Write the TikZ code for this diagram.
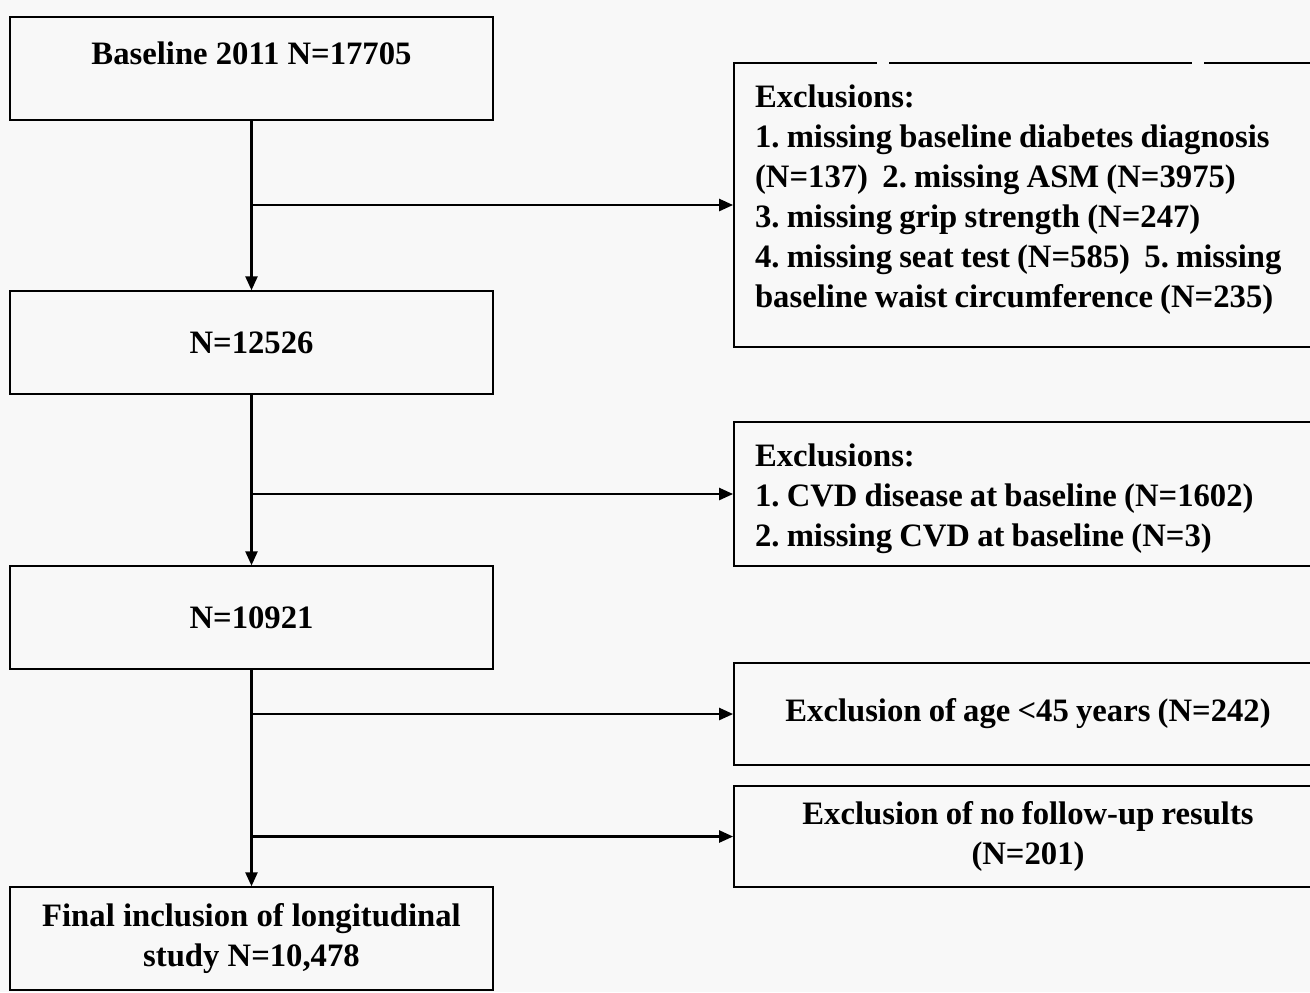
\documentclass[tikz,border=0pt]{standalone}
\usepackage{fontspec}
\setmainfont{Liberation Serif}
\usetikzlibrary{arrows.meta}
\definecolor{paper}{HTML}{F8F8F8}
\newcommand{\liftby}[1]{\rule[-#1]{0pt}{#1}}
\newcommand{\dropby}[1]{\rule{0pt}{#1}}
\newcommand{\tightspace}{\spaceskip=0.22em\relax}

\begin{document}
\begin{tikzpicture}[x=0.02cm,y=-0.02cm,
			>={Triangle[length=0.28cm,width=0.24cm]}]
			\tikzstyle{every node}=[draw,line width=1.1pt,inner sep=0pt,
			font=\fontsize{18.6}{22.8}\selectfont\bfseries\frenchspacing]
			\tikzstyle{mainbox}=[minimum width=9.66cm,minimum height=2.05cm,align=center]
			\tikzstyle{sidebox}=[minimum width=11.76cm,text width=10.92cm,
			execute at begin node=\tightspace]
			\tikzstyle{flow}=[->,line width=1.4pt]
			\path[use as bounding box,fill=paper] (0,0) rectangle (1310,992);
			\clip (0,0) rectangle (1310,992);
			% main column
			\node[mainbox] (base) at (251.5,68.5) {Baseline 2011 N=17705\liftby{0.62cm}};
			\node[mainbox] (stepA) at (251.5,342.5) {N=12526};
			\node[mainbox] (stepB) at (251.5,617.5) {N=10921};
			\node[mainbox] (final) at (251.5,938.5) {Final inclusion of longitudinal\\study N=10,478};
			% exclusions
			\node[sidebox,minimum height=5.68cm,align=left] (exA) at (1028,205)
			{Exclusions:\\
			\mbox{1. missing baseline diabetes diagnosis}\\
			\mbox{(N=137)~ 2. missing ASM (N=3975)}\\
			\mbox{3. missing grip strength (N=247)}\\
			\mbox{4. missing seat test (N=585)~ 5. missing}\\
			\mbox{baseline waist circumference (N=235)}\liftby{0.36cm}};
			\node[sidebox,minimum height=2.88cm,align=left] (exB) at (1028,494)
			{\dropby{0.64cm}Exclusions:\\
			1. CVD disease at baseline (N=1602)\\
			2. missing CVD at baseline (N=3)};
			\node[sidebox,minimum height=2.04cm,align=center] (exC) at (1028,714)
			{Exclusion of age <45 years (N=242)};
			\node[sidebox,minimum height=2.02cm,align=center] (exD) at (1028,836.5)
			{Exclusion of no follow-up results\\(N=201)};
			% breaks in the top edge
			\draw[paper,line width=2pt] ([xshift=2.88cm]exA.north west) -- +(12,0);
			\draw[paper,line width=2pt] ([xshift=9.18cm]exA.north west) -- +(12,0);
			% arrows
			\draw[flow] (base) -- (stepA);
			\draw[flow] (stepA) -- (stepB);
			\draw[flow] (stepB) -- (final);
			\draw[flow] (base.south |- exA.west) -- (exA.west);
			\draw[flow] (stepA.south |- exB.west) -- (exB.west);
			\draw[flow] (stepB.south |- exC.west) -- (exC.west);
			\draw[flow] (stepB.south |- exD.west) -- (exD.west);
		\end{tikzpicture}
\end{document}
